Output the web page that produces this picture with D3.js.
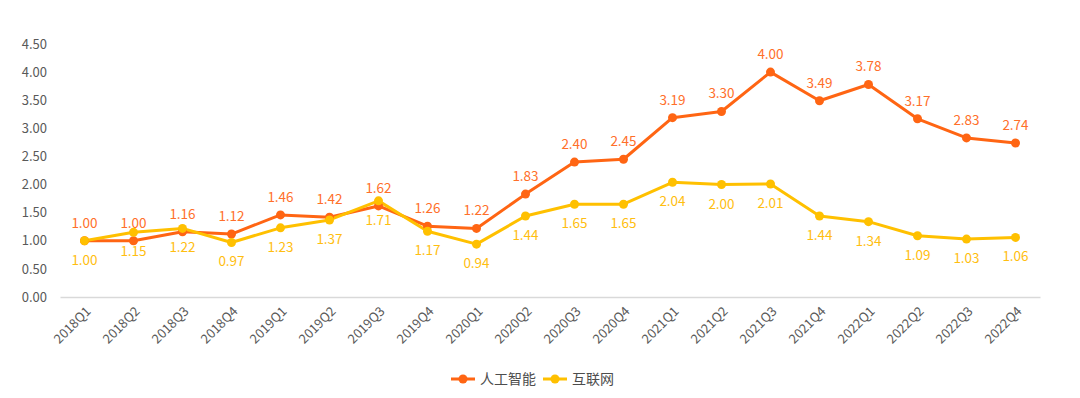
<!DOCTYPE html>
<html>
<head>
<meta charset="utf-8">
<script src="https://cdn.jsdelivr.net/npm/d3@7"></script>
<style>
  body { margin: 0; background: #fff; }
  svg text { font-family: "Noto Sans CJK SC", "Open Sans", sans-serif; }
</style>
</head>
<body>
<svg id="chart"></svg>
<script>
'use strict'

// quarters on the x axis
const quarters = ['2018Q1','2018Q2','2018Q3','2018Q4','2019Q1','2019Q2','2019Q3','2019Q4',
  '2020Q1','2020Q2','2020Q3','2020Q4','2021Q1','2021Q2','2021Q3','2021Q4',
  '2022Q1','2022Q2','2022Q3','2022Q4']
// series values
const aiValues = [1.00,1.00,1.16,1.12,1.46,1.42,1.62,1.26,1.22,1.83,2.40,2.45,3.19,3.30,4.00,3.49,3.78,3.17,2.83,2.74]
const netValues = [1.00,1.15,1.22,0.97,1.23,1.37,1.71,1.17,0.94,1.44,1.65,1.65,2.04,2.00,2.01,1.44,1.34,1.09,1.03,1.06]
const yTicks = [0,0.5,1,1.5,2,2.5,3,3.5,4,4.5]

const series = [
  {name: '人工智能', values: aiValues, color: '#FF6513', labelColor: '#FF6F2A', above: true},
  {name: '互联网', values: netValues, color: '#FFC000', labelColor: '#FFBE10', above: false}
]

const width = 1080, height = 398
const margins = {top: 44, right: 40, bottom: 101, left: 60}

const svg = d3.select('#chart').attr('width', width).attr('height', height)

const x = d3.scaleBand().domain(quarters).range([margins.left, width - margins.right])
const y = d3.scaleLinear().domain([0, 4.5]).range([height - margins.bottom, margins.top])
const cx = (q) => x(q) + x.bandwidth() / 2

// y axis labels (no line)
svg.append('g')
  .attr('transform', 'translate(' + (margins.left - 10) + ',0)')
  .call(d3.axisLeft(y).tickValues(yTicks).tickFormat(d3.format('.2f')).tickSize(0))
  .call(g => g.select('.domain').remove())
  .selectAll('text')
    .attr('fill', '#595959')
    .style('font-size', '13px')

// x axis baseline + rotated labels
const xAxis = svg.append('g')
  .attr('transform', 'translate(0,' + y(0) + ')')
  .call(d3.axisBottom(x).tickSize(0))
xAxis.select('.domain').attr('stroke', '#d9d9d9').attr('stroke-width', 1.5)
xAxis.selectAll('text')
  .attr('fill', '#595959')
  .style('font-size', '13px')
  .style('text-anchor', 'end')
  .attr('dy', 0)
  .attr('transform', 'translate(5,13) rotate(-45)')

const line = d3.line().x((d, i) => cx(quarters[i])).y((d) => y(d))

series.forEach((s) => {
  svg.append('path')
    .datum(s.values)
    .attr('fill', 'none')
    .attr('stroke', s.color)
    .attr('stroke-width', 3)
    .attr('stroke-linejoin', 'round')
    .attr('d', line)
})

series.forEach((s) => {
  const g = svg.append('g')
  g.selectAll('circle')
    .data(s.values)
    .enter().append('circle')
      .attr('cx', (d, i) => cx(quarters[i]))
      .attr('cy', (d) => y(d))
      .attr('r', 4.5)
      .attr('fill', s.color)
  g.selectAll('text')
    .data(s.values)
    .enter().append('text')
      .attr('x', (d, i) => cx(quarters[i]))
      .attr('y', (d) => y(d) + (s.above ? -13 : 24))
      .attr('text-anchor', 'middle')
      .attr('fill', s.labelColor)
      .style('font-size', '13.5px')
      .text((d) => d.toFixed(2))
})

// legend
const legend = svg.append('g').attr('transform', 'translate(0,379)')
const legendX = [451, 543]
series.forEach((s, i) => {
  const item = legend.append('g').attr('transform', 'translate(' + legendX[i] + ',0)')
  item.append('line').attr('x1', 0).attr('x2', 24).attr('stroke', s.color).attr('stroke-width', 3)
  item.append('circle').attr('cx', 12).attr('r', 4.5).attr('fill', s.color)
  item.append('text')
    .attr('x', 29)
    .attr('dy', '0.35em')
    .attr('fill', '#4d4d4d')
    .style('font-size', '14px')
    .text(s.name)
})
</script>
</body>
</html>
